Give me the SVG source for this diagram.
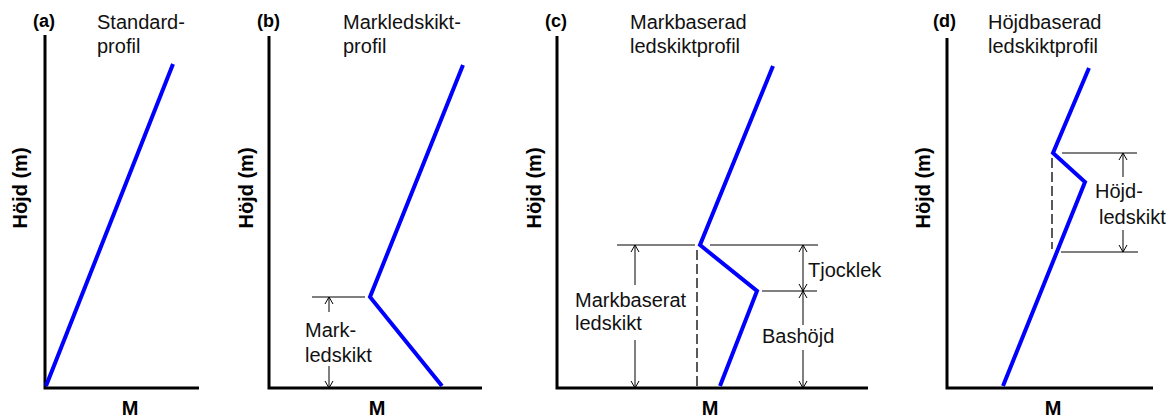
<svg xmlns="http://www.w3.org/2000/svg" width="1175" height="418" viewBox="0 0 1175 418">
<style>
.axis{stroke:#000;stroke-width:3;fill:none}
.prof{stroke:#0000ff;stroke-width:4;fill:none;stroke-linejoin:miter}
.ann{stroke:#000;stroke-width:1;fill:none}
.dash{stroke:#000;stroke-width:1.3;fill:none;stroke-dasharray:10,4}
.arr{stroke:#000;stroke-width:1;fill:none;marker-start:url(#ah);marker-end:url(#ah)}
.arrE{stroke:#000;stroke-width:1;fill:none;marker-end:url(#ah)}
.arrS{stroke:#000;stroke-width:1;fill:none;marker-start:url(#ah)}
.lbl{font-family:"Liberation Sans",Arial,sans-serif;font-weight:bold;font-size:18px;fill:#000}
.ttl{font-family:"Liberation Sans",Arial,sans-serif;font-size:20px;fill:#111}
.yl{font-family:"Liberation Sans",Arial,sans-serif;font-weight:bold;font-size:20px;fill:#000;text-anchor:middle}
.xl{font-family:"Liberation Sans",Arial,sans-serif;font-weight:bold;font-size:20px;fill:#000;text-anchor:middle}
.t{font-family:"Liberation Sans",Arial,sans-serif;font-size:20px;fill:#111}
</style>
<defs>
<marker id="ah" markerUnits="userSpaceOnUse" markerWidth="10" markerHeight="10" viewBox="-8 -5 10 10" refX="0" refY="0" orient="auto-start-reverse" overflow="visible">
<path d="M-7,-4 L0,0 L-7,4" stroke="#000" stroke-width="1" fill="none"/>
</marker>
</defs>

<g id="panel-a">
<text class="lbl" x="33" y="27">(a)</text>
<text class="ttl" x="97" y="29">Standard-</text>
<text class="ttl" x="97" y="53">profil</text>
<text class="yl" transform="translate(27,188) rotate(-90)">Höjd (m)</text>
<text class="xl" x="130" y="415">M</text>
<path class="axis" d="M45,35 V388 H199"/>
<path class="prof" d="M46,386 L173,64"/>
</g>

<g id="panel-b">
<text class="lbl" x="257" y="27">(b)</text>
<text class="ttl" x="343" y="29">Markledskikt-</text>
<text class="ttl" x="343" y="53">profil</text>
<text class="yl" transform="translate(253,188) rotate(-90)">Höjd (m)</text>
<text class="xl" x="377" y="415">M</text>
<path class="axis" d="M269,36 V388 H482"/>
<path class="prof" d="M442,386 L370,297 L463,65"/>
<text class="t" x="305" y="337">Mark-</text>
<text class="t" x="305" y="362">ledskikt</text>
</g>

<g id="panel-c">
<text class="lbl" x="545" y="27">(c)</text>
<text class="ttl" x="630" y="29">Markbaserad</text>
<text class="ttl" x="630" y="53">ledskiktprofil</text>
<text class="yl" transform="translate(541,188) rotate(-90)">Höjd (m)</text>
<text class="xl" x="710" y="415">M</text>
<path class="axis" d="M557,36 V388 H868"/>
<path class="dash" d="M697,250 V388"/>
<path class="prof" d="M720,386 L757,291 L700,245 L773,66"/>
<text class="t" x="575" y="307">Markbaserat</text>
<text class="t" x="575" y="330">ledskikt</text>
<text class="t" x="808" y="277">Tjocklek</text>
<text class="t" x="762" y="343">Bashöjd</text>
</g>

<g id="panel-d">
<text class="lbl" x="933" y="27">(d)</text>
<text class="ttl" x="988" y="29">Höjdbaserad</text>
<text class="ttl" x="988" y="53">ledskiktprofil</text>
<text class="yl" transform="translate(930,188) rotate(-90)">Höjd (m)</text>
<text class="xl" x="1053" y="415">M</text>
<path class="axis" d="M947,38 V388 H1153"/>
<path class="dash" d="M1052,158 V249"/>
<path class="prof" d="M1003,386 L1085,182 L1053,153 L1089,68"/>
<text class="t" x="1095" y="198">Höjd-</text>
<text class="t" x="1099" y="224">ledskikt</text>
</g>

<g id="connectors">
<path class="ann" d="M312,297 H365"/>
<path class="arrS" d="M329,297 V312"/>
<path class="arrE" d="M329,366 V388"/>

<path class="ann" d="M617,245 H695 M710,245 H818"/>
<path class="ann" d="M762,291 H817"/>
<path class="arrS" d="M635,245 V285"/>
<path class="arrE" d="M635,340 V388"/>
<path class="arr" d="M803,245 V291"/>
<path class="arrS" d="M803,291 V325"/>
<path class="arrE" d="M803,350 V388"/>

<path class="ann" d="M1062,153 H1137 M1061,252 H1138"/>
<path class="arrS" d="M1123,153 V177"/>
<path class="arrE" d="M1123,230 V252"/>
</g>
</svg>
